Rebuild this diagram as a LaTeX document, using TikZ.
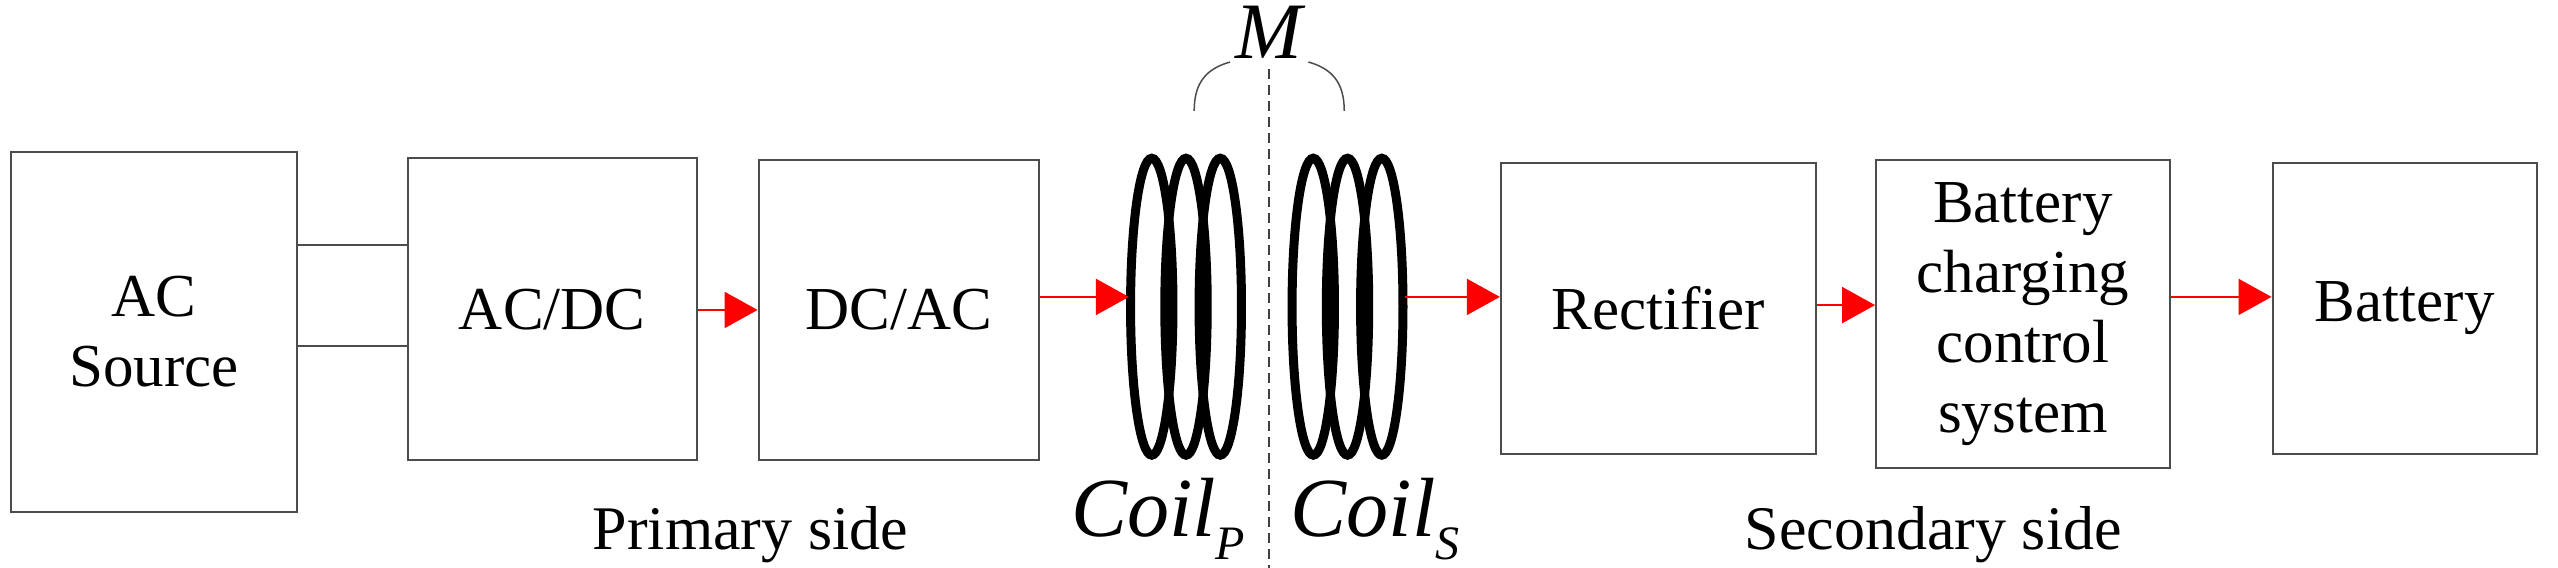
\documentclass[tikz,border=0pt]{standalone}
\usepackage{fontspec}
\setmainfont{Liberation Serif}
\usetikzlibrary{arrows.meta}
\begin{document}
\begin{tikzpicture}[x=1.631pt,y=-1.631pt,
  blk/.style={draw=black!70,line width=2pt,align=center,font=\fontsize{61}{70}\selectfont},
  rarr/.style={draw=red,line width=2pt,-{Triangle[length=33pt,width=36pt]}},
  loop/.style={line width=9pt},
  lbl/.style={font=\fontsize{62}{72}\selectfont}]
\useasboundingbox (0,0) rectangle (1568,348);
\path[fill=white] (0,0) rectangle (1568,348);
\node[blk,minimum width=175*1.631pt,minimum height=221*1.631pt] (src) at (94.5,203.5) {AC\\Source};
\node[blk,minimum width=177*1.631pt,minimum height=185*1.631pt] (acdc) at (338.5,189.5) {AC/DC};
\node[blk,minimum width=172*1.631pt,minimum height=184*1.631pt] (dcac) at (551,190) {DC/AC};
\node[blk,minimum width=193*1.631pt,minimum height=178*1.631pt] (rect) at (1016.5,189) {Rectifier};
\node[blk,minimum width=180*1.631pt,minimum height=189*1.631pt] (bcc) at (1240,192.5) {Battery\\charging\\control\\system};
\node[blk,minimum width=162*1.631pt,minimum height=178*1.631pt] (bat) at (1474,189) {Battery};
% AC source lines
\draw[black!70,line width=2pt] (src.east |- 0,150) -- (acdc.west |- 0,150);
\draw[black!70,line width=2pt] (src.east |- 0,212) -- (acdc.west |- 0,212);
% coils
\foreach \cx in {706,727,748} \draw[loop] (\cx,188) ellipse (13 and 91);
\foreach \cx in {805,826,847} \draw[loop] (\cx,188) ellipse (13 and 91);
\coordinate (cp) at (692,182);
\coordinate (cs) at (861,182);
\draw[dashed,black!75,line width=2pt,dash pattern=on 10pt off 6pt] (778,42) -- (778,348);
% arrows
\draw[rarr] (acdc.east |- 0,190) -- (dcac.west |- 0,190);
\draw[rarr] (dcac.east |- 0,182) -- (cp);
\draw[rarr] (cs) -- (rect.west |- 0,182);
\draw[rarr] (rect.east |- 0,187) -- (bcc.west |- 0,187);
\draw[rarr] (bcc.east |- 0,182) -- (bat.west |- 0,182);
% M
\node[font=\fontsize{80}{90}\selectfont\itshape] (m) at (778,20) {M};
\draw[black!70,line width=1.5pt] (732,68) .. controls (732,50) and (740,42) .. (754,38);
\draw[black!70,line width=1.5pt] (802,38) .. controls (816,42) and (824,50) .. (824,68);
% labels
\node[font=\fontsize{84}{96}\selectfont\itshape] (lp) at (710,318) {Coil\textsubscript{\fontsize{48}{56}\selectfont P}};
\node[font=\fontsize{84}{96}\selectfont\itshape] (ls) at (843,318) {Coil\textsubscript{\fontsize{48}{56}\selectfont S}};
\node[lbl] (ps) at (460,328) {Primary side};
\node[lbl] (ss) at (1185,328) {Secondary side};
\end{tikzpicture}
\end{document}
